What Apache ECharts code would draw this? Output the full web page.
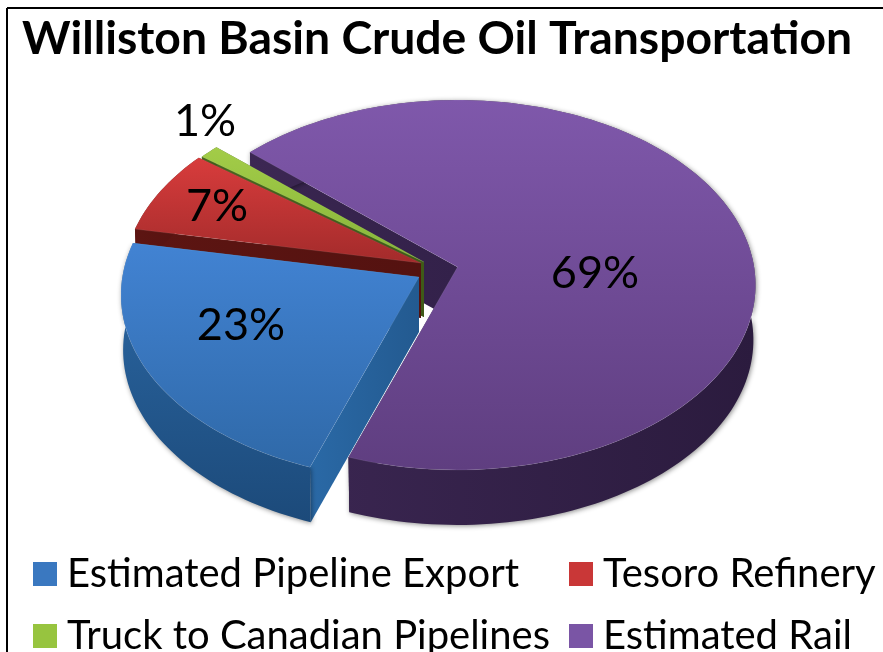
<!DOCTYPE html>
<html><head><meta charset="utf-8">
<style>html,body{margin:0;padding:0;background:#fff}#c{width:883px;height:652px}</style>
<script src="https://cdn.jsdelivr.net/npm/echarts@6/dist/echarts.min.js"></script>
</head><body><div id="c"></div>
<script>
const categories = ['Estimated Pipeline Export','Tesoro Refinery','Truck to Canadian Pipelines','Estimated Rail'];
const values = [22.6, 7.4, 1.2, 68.8];
const startAngle = 199.5;

const FONT = 'Lato, Carlito, sans-serif';
const RX = 296.6, RY = 183.2, PERSP = 0.0973, DEPTH = 55;
const apex = [[419,277],[421,263],[424,262],[457.5,267]];
const labelAt = [[241,325],[217,206],[205,121],[595,273]];
const paint = [
  {top:['#4283d3','#2f69a8'], rim:['#2c69a6','#1c4a7a'], face:['#2a69a6','#235a90'], edge:'#1f5688', shadow:true},
  {top:['#d83c3c','#a32b2b'], rim:['#5d1512','#541210'], face:['#5d1512','#541210'], edge:'#541210', shadow:false},
  {top:['#a3cc48','#86b53a'], rim:['#49651e','#3f5a18'], face:['#49651e','#3f5a18'], edge:'#3f5a18', shadow:false},
  {top:['#7f58ab','#5f3e80'], rim:['#3c2753','#2b1b3e'], face:['#3a2650','#33214a'], edge:'#33214a', shadow:true}
];
const swatch = ['#3a78c0','#c93737','#97c43f','#7a55a5'];
const legendAt = [[33,554],[569,554],[33,616],[569,616]];

const total = values.reduce((a,b)=>a+b,0);
const spans = [];
let acc = startAngle;
values.forEach(v=>{ const d=v/total*360; spans.push([acc,acc+d]); acc+=d; });

function pt(deg,c,z){
  const a=deg*Math.PI/180, u=Math.sin(a), v=-Math.cos(a), w=1-PERSP*v;
  const shrink=1-(z||0)*0.00013;
  return [c[0]+RX*shrink*u/w, c[1]+RY*v/w+(z||0)];
}
function grad(cols,horizontal){
  return new echarts.graphic.LinearGradient(0,0,horizontal?1:0,horizontal?0:1,[{offset:0,color:cols[0]},{offset:1,color:cols[1]}]);
}
function arc(s,e,c,z){ const n=Math.max(4,Math.ceil((e-s)/1.5)),r=[]; for(let i=0;i<=n;i++) r.push(pt(s+(e-s)*i/n,c,z)); return r; }

function render(idx){
  return function(){
    const c=apex[idx], [s,e]=spans[idx], p=paint[idx], kids=[];
    const poly=(pts,fill,extra)=>kids.push({type:'polygon',shape:{points:pts},style:Object.assign({fill:fill},extra||{})});
    const S=pt(s,c), E=pt(e,c), Sb=pt(s,c,DEPTH), Eb=pt(e,c,DEPTH), Cb=[c[0],c[1]+DEPTH];
    // radial walls first, outer wall over them
    poly([c,E,Eb,Cb],p.edge);
    poly([c,S,Sb,Cb],grad(p.face,true));
    const topArc=arc(s,e,c,0), botArc=arc(s,e,c,DEPTH).reverse();
    poly(topArc.concat(botArc),grad(p.rim,idx===0?false:true),p.shadow?{shadowBlur:5,shadowColor:'rgba(0,0,0,0.45)',shadowOffsetX:1,shadowOffsetY:1}:{});
    // top surface
    poly([c].concat(topArc),grad(p.top,false),{stroke:'rgba(255,255,255,0.08)',lineWidth:1});
    const rounded=Math.round(values[idx]/total*100)+'%';
    kids.push({type:'text',z2:100,style:{text:rounded,x:labelAt[idx][0],y:labelAt[idx][1],fill:'#000',font:'400 45px '+FONT,textAlign:'center',textVerticalAlign:'middle'}});
    return {type:'group',children:kids};
  };
}
// back to front
const drawOrder=[3,2,1,0];
const series=drawOrder.map(i=>({
  type:'custom',name:categories[i],coordinateSystem:'none',silent:true,animation:false,
  data:[[values[i]]],renderItem:render(i),itemStyle:{color:swatch[i]}
}));
const chart=echarts.init(document.getElementById('c'),null,{renderer:'canvas'});
chart.setOption({
  backgroundColor:'#fff',animation:false,
  title:{text:'Williston Basin Crude Oil Transportation',left:17,top:11,textStyle:{fontFamily:FONT,fontWeight:700,fontSize:46.3,color:'#000'}},
  legend:categories.map((n,i)=>({data:[n],left:legendAt[i][0],top:legendAt[i][1],orient:'horizontal',selectedMode:false,
    icon:'rect',itemWidth:24,itemHeight:24,itemGap:0,padding:0,
    textStyle:{fontFamily:FONT,fontSize:40,color:'#000',padding:[0,0,0,5]}})),
  series:series,
  graphic:[
    {type:'line',silent:true,shape:{x1:7,y1:8,x2:883,y2:8},style:{stroke:'#000',lineWidth:2}},
    {type:'line',silent:true,shape:{x1:7,y1:8,x2:7,y2:652},style:{stroke:'#000',lineWidth:2}}
  ]
});
</script></body></html>
